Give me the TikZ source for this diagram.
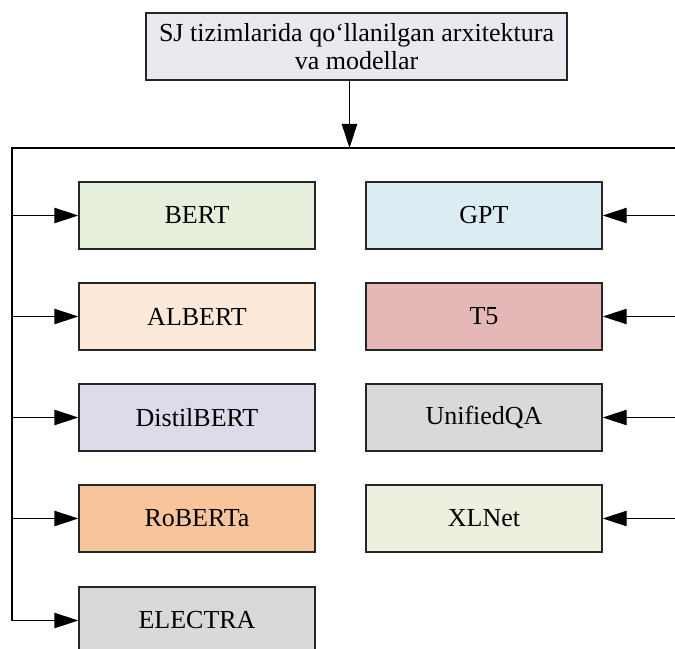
\documentclass[tikz,border=0pt]{standalone}
\usepackage{fontspec}
\setmainfont{Liberation Serif}
\usetikzlibrary{arrows.meta,positioning}
\definecolor{rootfill}{RGB}{235,233,240}
\definecolor{bertfill}{RGB}{230,239,220}
\definecolor{albertfill}{RGB}{252,233,218}
\definecolor{distilfill}{RGB}{222,218,233}
\definecolor{robertafill}{RGB}{248,196,155}
\definecolor{greyfill}{RGB}{217,217,217}
\definecolor{gptfill}{RGB}{219,237,243}
\definecolor{tfivefill}{RGB}{229,184,183}
\definecolor{xlnetfill}{RGB}{235,241,222}
\tikzset{
  model/.style={draw=black!85,line width=1.1pt,minimum width=177pt,minimum height=50pt,
                inner sep=0pt,font=\fontsize{19.5}{21.5}\selectfont},
  feed/.style={-{Triangle[length=18pt,width=11.5pt]},draw=black,line width=1.1pt},
  bus/.style={draw=black,line width=1.1pt},
}
\begin{document}
\begin{tikzpicture}[x=0.75pt,y=-0.75pt]
  \useasboundingbox (0,0) rectangle (675,649);
  % root box
  \node[model,fill=rootfill,minimum width=316pt,align=center] (root) at (356.5,46.5)
    {SJ tizimlarida qo‘llanilgan arxitektura\\va modellar};
  % bus lines
  \coordinate (busL) at (12,148);
  \coordinate (busR) at (676,148);
  \coordinate (busEnd) at (12,620.5);
  \coordinate (drop) at ([xshift=-5.25pt]root.south);
  % left column
  \node[model,fill=bertfill]    (bert)    at (197,215.5) {BERT};
  \node[model,fill=albertfill]  (albert)  at (197,316.5) {ALBERT};
  \node[model,fill=distilfill]  (distil)  at (197,417.5) {DistilBERT};
  \node[model,fill=robertafill] (roberta) at (197,518.5) {RoBERTa};
  \node[model,fill=greyfill]    (electra) at (197,620.5) {ELECTRA};
  % right column
  \node[model,fill=gptfill]     (gpt)     at (484,215.5) {GPT};
  \node[model,fill=tfivefill]   (tfive)   at (484,316.5) {T5};
  \node[model,fill=greyfill]    (uqa)     at (484,417.5) {UnifiedQA};
  \node[model,fill=xlnetfill]   (xlnet)   at (484,518.5) {XLNet};
  % connectors
  \draw[feed] (drop) -- (drop |- busL);
  \draw[bus] (busR) -- (busL) -- (busEnd);
  \foreach \m in {bert,albert,distil,roberta,electra}
    \draw[feed] (busL |- \m) -- (\m);
  \foreach \m in {gpt,tfive,uqa,xlnet}
    \draw[feed] (busR |- \m) -- (\m);
\end{tikzpicture}
\end{document}
